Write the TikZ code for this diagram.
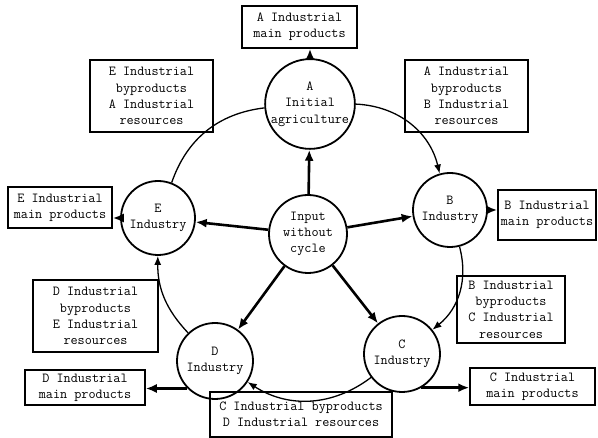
\documentclass[tikz,border=0pt]{standalone}
\usepackage{fontspec}
\usetikzlibrary{arrows.meta}
\begin{document}
\begin{tikzpicture}[x=1pt,y=1pt,
  font=\ttfamily\fontsize{13.8}{16.3}\selectfont,
  circ/.style={circle,draw,line width=1.8pt,align=center,inner sep=0pt},
  box/.style={draw,line width=1.5pt,align=center,inner sep=0pt},
  bigarrow/.style={line width=2.6pt,-{Latex[length=11pt,width=9pt]}},
  cyc/.style={line width=1.3pt,-{Latex[length=9pt,width=7pt]}},
  cycline/.style={line width=1.3pt}
]
\useasboundingbox (0,0) rectangle (598,438);
% circles
\node[circ,minimum size=88] (A) at (310,334) {A\\Initial\\agriculture};
\node[circ,minimum size=78] (In) at (308,204) {Input\\without\\cycle};
\node[circ,minimum size=74] (B) at (450,228) {B\\Industry};
\node[circ,minimum size=76] (C) at (402,84) {C\\Industry};
\node[circ,minimum size=76] (D) at (215,77) {D\\Industry};
\node[circ,minimum size=74] (E) at (158,220) {E\\Industry};
% boxes
\node[box,minimum width=115,minimum height=42] (Amain) at (299.5,411) {A Industrial\\main products};
\node[box,minimum width=123,minimum height=72] (EA) at (151.5,342) {E Industrial\\byproducts\\A Industrial\\resources};
\node[box,minimum width=123,minimum height=72] (AB) at (466.5,342) {A Industrial\\byproducts\\B Industrial\\resources};
\node[box,minimum width=104,minimum height=41] (Emain) at (60,230.5) {E Industrial\\main products};
\node[box,minimum width=98,minimum height=50] (Bmain) at (547,223) {B Industrial\\main products};
\node[box,minimum width=125,minimum height=72] (DE) at (95.5,122) {D Industrial\\byproducts\\E Industrial\\resources};
\node[box,minimum width=120,minimum height=35] (Dmain) at (85,50.5) {D Industrial\\main products};
\node[box,minimum width=182,minimum height=45] (CD) at (301,23.5) {C Industrial byproducts\\D Industrial resources};
\node[box,minimum width=108,minimum height=67] (BC) at (511,128.5) {B Industrial\\byproducts\\C Industrial\\resources};
\node[box,minimum width=125,minimum height=37] (Cmain) at (532.5,51.5) {C Industrial\\main products};
% input arrows
\draw[bigarrow] (In) -- (A);
\draw[bigarrow] (In) -- (B);
\draw[bigarrow] (In) -- (C);
\draw[bigarrow] (In) -- (D);
\draw[bigarrow] (In) -- (E);
% product arrows
\draw[bigarrow] (A.north) -- (Amain.south -| A.north);
\draw[bigarrow] (E.west) -- (Emain.east |- E.west);
\draw[bigarrow] (B.east) -- (Bmain.west |- B.east);
\draw[bigarrow] (D.south west) -- (Dmain.east |- D.south west);
\draw[bigarrow] (C.-60) -- (Cmain.west |- C.-60);
% cycle
\draw[cyc] (A) to[bend left=37] (B);
\draw[cyc] (B) to[bend left=33] (C);
\draw[cyc] (C) to[bend left=35] (D);
\draw[cyc] (D) to[bend left=22] (E);
\draw[cycline] (E) to[bend left=32] (A);
\end{tikzpicture}
\end{document}
